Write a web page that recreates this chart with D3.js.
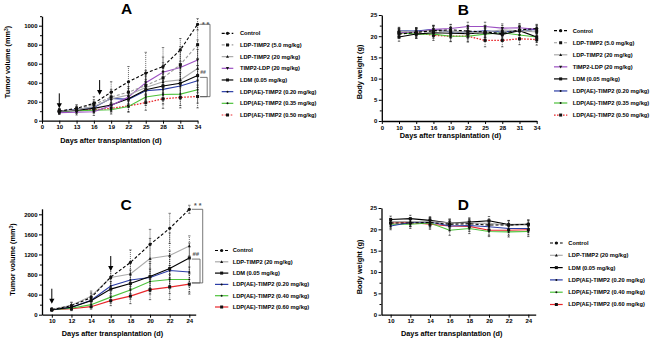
<!DOCTYPE html>
<html>
<head>
<meta charset="utf-8">
<script src="https://cdn.jsdelivr.net/npm/d3@7"></script>
<style>
body { margin: 0; background: #fff; }
svg text { font-family: Arial, "Liberation Sans", sans-serif; font-weight: bold; fill: #000; }
</style>
</head>
<body>
<svg id="chart" width="650" height="344"></svg>
<script>
// ---------- data ----------
const daysAB = [10, 13, 16, 19, 22, 25, 28, 31, 34];
const daysCD = [10, 12, 14, 16, 18, 20, 22, 24];

const groupsAB = ["Control", "LDP-TIMP2 (5.0 mg/kg)", "LDP-TIMP2 (20 mg/kg)", "TIMP2-LDP (20 mg/kg)",
                  "LDM (0.05 mg/kg)", "LDP(AE)-TIMP2 (0.20 mg/kg)", "LDP(AE)-TIMP2 (0.35 mg/kg)", "LDP(AE)-TIMP2 (0.50 mg/kg)"];
const groupsCD = ["Control", "LDP-TIMP2 (20 mg/kg)", "LDM (0.05 mg/kg)",
                  "LDP(AE)-TIMP2 (0.20 mg/kg)", "LDP(AE)-TIMP2 (0.40 mg/kg)", "LDP(AE)-TIMP2 (0.60 mg/kg)"];

// tumor volume (mm3), panel A, one row per group
const volumeA = [
  [100, 130, 183, 300, 410, 500, 570, 745, 1015],
  [100, 120, 170, 250, 300, 370, 450, 590, 800],
  [100, 115, 150, 230, 270, 350, 410, 430, 550],
  [85, 90, 95, 160, 250, 400, 510, 560, 640],
  [100, 110, 130, 165, 230, 325, 365, 395, 475],
  [100, 120, 140, 235, 225, 315, 330, 365, 420],
  [95, 105, 110, 115, 150, 250, 275, 280, 325],
  [100, 110, 115, 130, 155, 190, 230, 245, 255]
];
const volumeErrA = [
  [30, 40, 70, 110, 160, 220, 200, 120, 60],
  [25, 35, 50, 80, 100, 130, 160, 190, 220],
  [25, 30, 50, 70, 90, 120, 140, 160, 200],
  [20, 30, 40, 60, 90, 130, 160, 180, 210],
  [20, 30, 40, 60, 80, 110, 130, 150, 180],
  [20, 30, 40, 60, 80, 100, 120, 140, 160],
  [20, 25, 30, 45, 60, 90, 100, 120, 140],
  [20, 25, 30, 40, 60, 80, 100, 110, 120]
];

// body weight (g), panel B
const weightB = [
  [20.5, 20.9, 21.3, 21.5, 21.2, 21.0, 20.6, 21.5, 21.8],
  [21.0, 21.0, 21.2, 21.0, 20.8, 20.8, 21.0, 21.4, 21.2],
  [21.2, 21.0, 21.4, 21.2, 21.0, 21.0, 21.5, 21.3, 21.0],
  [20.8, 21.0, 21.6, 21.8, 22.3, 22.3, 21.9, 22.0, 21.6],
  [19.8, 20.5, 20.8, 20.7, 20.6, 20.8, 20.4, 21.3, 19.8],
  [21.3, 21.2, 21.6, 21.0, 21.0, 21.3, 21.0, 21.3, 21.6],
  [20.8, 20.5, 20.5, 20.0, 20.0, 20.5, 20.8, 20.3, 19.8],
  [20.8, 20.8, 20.2, 20.0, 20.0, 19.0, 19.0, 19.4, 19.2]
];
const weightErrB = [
  [1.0, 1.0, 1.2, 1.2, 1.3, 1.3, 1.2, 1.2, 1.0],
  [0.8, 0.9, 1.0, 1.0, 1.0, 1.1, 1.0, 1.0, 1.0],
  [0.8, 0.8, 1.0, 1.0, 1.0, 1.0, 1.0, 1.0, 1.0],
  [0.8, 0.9, 1.0, 1.0, 1.0, 1.0, 1.0, 1.0, 1.0],
  [1.0, 1.0, 1.0, 1.2, 1.2, 1.2, 1.3, 1.2, 1.2],
  [0.8, 0.8, 0.9, 1.0, 1.0, 1.0, 1.0, 1.0, 1.0],
  [0.9, 1.0, 1.0, 1.2, 1.2, 1.2, 1.2, 1.2, 1.2],
  [1.0, 1.2, 1.2, 1.3, 1.4, 1.5, 1.5, 1.4, 1.3]
];

// tumor volume (mm3), panel C
const volumeC = [
  [100, 180, 340, 750, 1040, 1400, 1720, 2100],
  [110, 190, 370, 740, 810, 1120, 1180, 1370],
  [100, 150, 280, 510, 620, 760, 920, 1130],
  [100, 150, 290, 570, 690, 740, 880, 850],
  [100, 130, 200, 350, 490, 660, 700, 700],
  [100, 120, 160, 280, 370, 500, 550, 610]
];
const volumeErrC = [
  [30, 60, 90, 180, 250, 300, 300, 80],
  [30, 60, 100, 200, 250, 400, 450, 200],
  [25, 50, 80, 150, 200, 300, 350, 300],
  [25, 50, 80, 150, 200, 280, 300, 280],
  [20, 40, 60, 120, 180, 250, 280, 250],
  [20, 40, 50, 100, 150, 200, 250, 200]
];

// body weight (g), panel D
const weightD = [
  [21.5, 21.5, 21.6, 21.2, 21.3, 21.0, 21.0, 21.2],
  [21.8, 21.8, 21.8, 21.5, 21.5, 21.4, 21.0, 21.0],
  [22.3, 22.5, 22.1, 21.5, 21.7, 22.0, 21.1, 21.2],
  [20.8, 21.6, 21.7, 20.8, 20.9, 20.6, 20.2, 20.2],
  [21.2, 21.2, 21.5, 19.8, 20.2, 19.5, 19.4, 19.5],
  [21.5, 21.6, 21.2, 20.8, 20.7, 19.8, 19.8, 19.9]
];
const weightErrD = [
  [0.8, 0.8, 1.0, 1.0, 1.0, 1.0, 1.0, 1.0],
  [0.8, 0.8, 0.9, 0.9, 1.0, 1.0, 1.0, 1.0],
  [0.8, 0.8, 0.9, 0.9, 1.0, 1.0, 1.0, 1.0],
  [0.9, 0.9, 1.0, 1.0, 1.0, 1.0, 1.0, 1.0],
  [1.0, 1.0, 1.2, 1.2, 1.2, 1.2, 1.2, 1.2],
  [1.0, 1.0, 1.2, 1.2, 1.2, 1.2, 1.2, 1.2]
];

// x ticks: the AB axis has a break, "0" is drawn at the day-7 slot
const xTicksAB = [7, 10, 13, 16, 19, 22, 25, 28, 31, 34];
const xTicksCD = [10, 12, 14, 16, 18, 20, 22, 24];

// ---------- styles ----------
const stylesAB = [
  {color: "#000", dash: "3,2", marker: "circle"},
  {color: "#9a9a9a", dash: "3,2", marker: "square"},
  {color: "#aaaaaa", dash: null, marker: "tri"},
  {color: "#9b4fc2", dash: null, marker: "tridown"},
  {color: "#000", dash: null, marker: "square"},
  {color: "#2b3da6", dash: null, marker: "dot"},
  {color: "#4cc23a", dash: null, marker: "dot"},
  {color: "#e8262a", dash: "1.6,1.4", marker: "square"}
];
const stylesCD = [
  {color: "#000", dash: "3,2", marker: "circle"},
  {color: "#aaaaaa", dash: null, marker: "tri"},
  {color: "#000", dash: null, marker: "square"},
  {color: "#2b3da6", dash: null, marker: "dot"},
  {color: "#4cc23a", dash: null, marker: "dot"},
  {color: "#e8262a", dash: null, marker: "square"}
];

const svg = d3.select("#chart");

function drawMarker(g, type, cx, cy, col) {
  const fill = col || "#111";
  if (type === "circle") {
    g.append("circle").attr("cx", cx).attr("cy", cy).attr("r", 1.6).attr("fill", fill);
  } else if (type === "square") {
    g.append("rect").attr("x", cx - 1.5).attr("y", cy - 1.5).attr("width", 3).attr("height", 3).attr("fill", fill);
  } else if (type === "tri") {
    g.append("path").attr("d", `M${cx},${cy - 1.6}L${cx + 1.5},${cy + 1.2}L${cx - 1.5},${cy + 1.2}Z`).attr("fill", fill);
  } else if (type === "tridown") {
    g.append("path").attr("d", `M${cx},${cy + 1.6}L${cx + 1.6},${cy - 1.2}L${cx - 1.6},${cy - 1.2}Z`).attr("fill", fill);
  } else {
    g.append("circle").attr("cx", cx).attr("cy", cy).attr("r", 1).attr("fill", fill);
  }
}

function drawPanel(cfg) {
  const x = d3.scaleLinear().domain(cfg.xDomain).range(cfg.xRange);
  const y = d3.scaleLinear().domain(cfg.yDomain).range(cfg.yRange);
  const g = svg.append("g");

  // error bars
  cfg.values.forEach((row, i) => {
    row.forEach((v, j) => {
      const e = cfg.errors[i][j];
      const xx = x(cfg.days[j]);
      g.append("line")
        .attr("x1", xx).attr("x2", xx)
        .attr("y1", y(v - e)).attr("y2", y(v + e))
        .attr("stroke", "#222").attr("stroke-width", 0.7)
        .attr("stroke-dasharray", "1,1");
      [v - e, v + e].forEach(t => {
        g.append("line")
          .attr("x1", xx - 1.2).attr("x2", xx + 1.2)
          .attr("y1", y(t)).attr("y2", y(t))
          .attr("stroke", "#222").attr("stroke-width", 0.6);
      });
    });
  });

  // lines, last group first so control ends on top
  const line = d3.line().x(d => x(d[0])).y(d => y(d[1]));
  for (let i = cfg.values.length - 1; i >= 0; i--) {
    const st = cfg.styles[i];
    const pts = cfg.days.map((d, j) => [d, cfg.values[i][j]]);
    g.append("path")
      .attr("d", line(pts))
      .attr("fill", "none")
      .attr("stroke", st.color)
      .attr("stroke-width", st.dash && st.color === "#e8262a" ? 1.3 : 1.1)
      .attr("stroke-dasharray", st.dash);
    pts.forEach(p => drawMarker(g, st.marker, x(p[0]), y(p[1])));
  }

  // axes
  const xAxis = g.append("g")
    .attr("transform", `translate(0,${cfg.yRange[0]})`)
    .call(d3.axisBottom(x).tickValues(cfg.xTicks).tickFormat(cfg.xFormat || (d => d))
      .tickSize(3).tickPadding(1.5).tickSizeOuter(0));
  const yAxis = g.append("g")
    .attr("transform", `translate(${cfg.xRange[0]},0)`)
    .call(d3.axisLeft(y).tickValues(cfg.yTicks).tickFormat(d => d)
      .tickSize(3).tickPadding(1.5).tickSizeOuter(0));
  g.append("g")
    .attr("transform", `translate(${cfg.xRange[0]},0)`)
    .call(d3.axisLeft(y).tickValues(cfg.yMinor).tickSize(2).tickFormat(""))
    .call(a => a.select(".domain").remove());
  g.selectAll(".domain").attr("stroke-width", 1.3);
  g.selectAll(".tick line").attr("stroke-width", 1);
  xAxis.selectAll("text").attr("font-size", 6).attr("fill", "#000");
  yAxis.selectAll("text").attr("font-size", 6).attr("fill", "#000");

  // axis titles
  g.append("text")
    .attr("x", cfg.xTitle[0]).attr("y", cfg.xTitle[1])
    .attr("text-anchor", "middle").attr("font-size", 7.3)
    .text("Days after transplantation (d)");
  const yt = g.append("text")
    .attr("transform", `translate(${cfg.yTitle[0]},${cfg.yTitle[1]}) rotate(-90)`)
    .attr("text-anchor", "middle").attr("font-size", 7.3);
  if (cfg.superscript) {
    yt.append("tspan").text(cfg.yLabel);
    yt.append("tspan").attr("font-size", 5).attr("dy", -2.5).text("3");
    yt.append("tspan").attr("dy", 2.5).text(")");
  } else {
    yt.text(cfg.yLabel);
  }

  // panel letter
  g.append("text")
    .attr("x", cfg.letterPos[0]).attr("y", cfg.letterPos[1])
    .attr("text-anchor", "middle").attr("font-size", 15.5)
    .text(cfg.letter);

  // legend
  const lg = cfg.legend;
  cfg.groups.forEach((name, i) => {
    const st = cfg.styles[i];
    const ly = lg.y0 + i * lg.step;
    const row = g.append("g");
    row.append("line")
      .attr("x1", lg.x0).attr("x2", lg.x0 + lg.len)
      .attr("y1", ly).attr("y2", ly)
      .attr("stroke", st.color).attr("stroke-width", 1.2)
      .attr("stroke-dasharray", st.dash);
    drawMarker(row, st.marker, lg.x0 + lg.len / 2, ly);
    row.append("text")
      .attr("x", lg.tx).attr("y", ly).attr("dy", "0.35em")
      .attr("font-size", 5.7)
      .text(name);
  });

  // dosing arrows
  (cfg.arrows || []).forEach(a => {
    const ax = x(a[0]), tip = y(a[1]);
    g.append("line")
      .attr("x1", ax).attr("x2", ax).attr("y1", tip - 15).attr("y2", tip - 4)
      .attr("stroke", "#000").attr("stroke-width", 1);
    g.append("path")
      .attr("d", `M${ax - 2.6},${tip - 5}L${ax + 2.6},${tip - 5}L${ax},${tip}Z`)
      .attr("fill", "#000");
  });

  // significance brackets
  (cfg.brackets || []).forEach(b => {
    const bx = x(cfg.days[cfg.days.length - 1]);
    const y1 = y(b.from), y2 = y(b.to);
    g.append("path")
      .attr("d", `M${bx + 2.5},${y1}H${bx + b.dx}V${y2}H${bx + 2.5}`)
      .attr("fill", "none").attr("stroke", "#555").attr("stroke-width", 0.8);
    g.append("text")
      .attr("x", bx + b.tx).attr("y", y1 + b.ty)
      .attr("text-anchor", "middle").attr("font-size", b.fs)
      .style("fill", "#555")
      .text(b.label);
  });
}

// ---------- panels ----------
drawPanel({
  letter: "A", letterPos: [126.7, 14.3],
  days: daysAB, values: volumeA, errors: volumeErrA, styles: stylesAB, groups: groupsAB,
  xDomain: [7, 34], xRange: [42, 197.6], xTicks: xTicksAB, xFormat: d => d === 7 ? "0" : d,
  yDomain: [0, 1100], yRange: [120.7, 16.2],
  yTicks: [0, 200, 400, 600, 800, 1000], yMinor: [100, 300, 500, 700, 900, 1100],
  xTitle: [111, 142.7], yTitle: [10, 62], yLabel: "Tumor volume (mm", superscript: true,
  legend: {x0: 221.7, len: 11.6, tx: 240, y0: 33.3, step: 11.67},
  arrows: [[10, 130], [17, 270]],
  brackets: [
    {from: 1015, to: 253, dx: 12.4, tx: 8, ty: 2.6, fs: 7, label: "* *"},
    {from: 456, to: 253, dx: 9.6, tx: 5.5, ty: -3, fs: 5, label: "##"}
  ]
});

drawPanel({
  letter: "B", letterPos: [463.3, 14.5],
  days: daysAB, values: weightB, errors: weightErrB, styles: stylesAB, groups: groupsAB,
  xDomain: [7, 34], xRange: [381.8, 536.7], xTicks: xTicksAB, xFormat: d => d === 7 ? "0" : d,
  yDomain: [0, 25], yRange: [121, 15],
  yTicks: [0, 5, 10, 15, 20, 25], yMinor: [2.5, 7.5, 12.5, 17.5, 22.5],
  xTitle: [450.5, 137.5], yTitle: [362, 72], yLabel: "Body weight (g)",
  legend: {x0: 554, len: 13.3, tx: 572.7, y0: 30.7, step: 12.05}
});

drawPanel({
  letter: "C", letterPos: [126, 210.3],
  days: daysCD, values: volumeC, errors: volumeErrC, styles: stylesCD, groups: groupsCD,
  xDomain: [9, 24.65], xRange: [42, 195.7], xTicks: xTicksCD,
  yDomain: [0, 2110], yRange: [314.7, 208.8],
  yTicks: [0, 400, 800, 1200, 1600, 2000], yMinor: [200, 600, 1000, 1400, 1800],
  xTitle: [112.5, 336], yTitle: [15, 259.5], yLabel: "Tumor volume (mm", superscript: true,
  legend: {x0: 215, len: 13.3, tx: 232.7, y0: 250.5, step: 11.3},
  arrows: [[10, 219], [16, 870]],
  brackets: [
    {from: 2100, to: 633, dx: 13.4, tx: 8.5, ty: -1.8, fs: 7, label: "* *"},
    {from: 1108, to: 633, dx: 10.7, tx: 6.5, ty: -3.5, fs: 6, label: "##"}
  ]
});

drawPanel({
  letter: "D", letterPos: [463.3, 210.3],
  days: daysCD, values: weightD, errors: weightErrD, styles: stylesCD, groups: groupsCD,
  xDomain: [9.07, 24.75], xRange: [381.5, 535.7], xTicks: xTicksCD,
  yDomain: [0, 25], yRange: [314.7, 208],
  yTicks: [0, 5, 10, 15, 20, 25], yMinor: [2.5, 7.5, 12.5, 17.5, 22.5],
  xTitle: [451.7, 336], yTitle: [362, 267], yLabel: "Body weight (g)",
  legend: {x0: 550, len: 12.7, tx: 568.3, y0: 243, step: 12.3}
});
</script>
</body>
</html>
